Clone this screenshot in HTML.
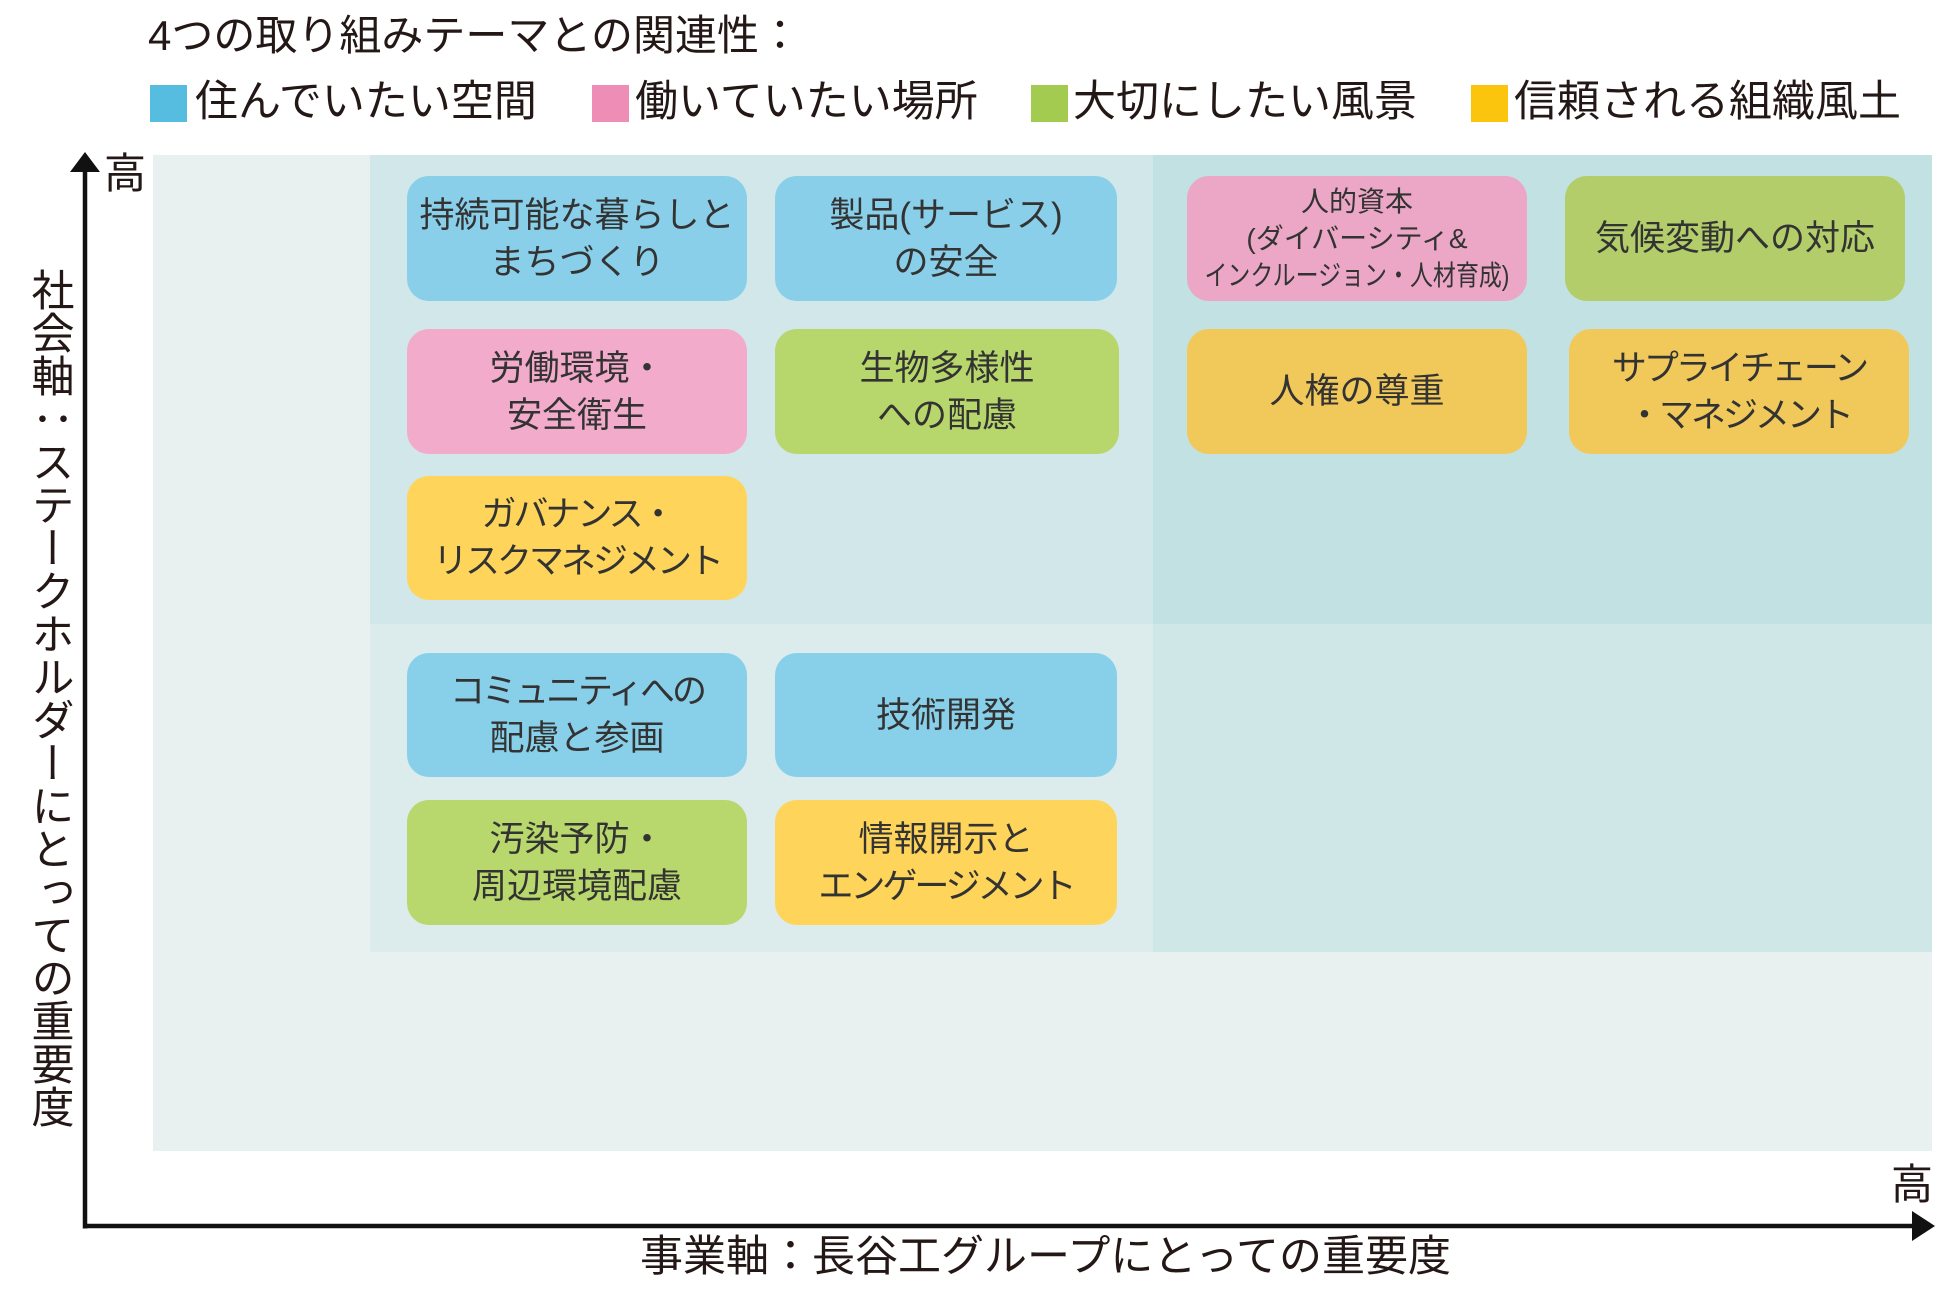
<!DOCTYPE html>
<html lang="ja">
<head>
<meta charset="utf-8">
<style>
  html, body { margin:0; padding:0; background:#ffffff; }
  body { width:1960px; height:1290px; position:relative; overflow:hidden;
         font-family:"Liberation Sans","Noto Sans CJK JP",sans-serif; color:#231815; }
  .abs { position:absolute; }
  .title { left:148px; top:15px; font-size:42px; line-height:42px; letter-spacing:0px; white-space:nowrap; }
  .sq { position:absolute; width:37px; height:37px; top:85px; }
  .lg { position:absolute; top:81px; font-size:43px; line-height:43px; white-space:nowrap; }
  .region { position:absolute; }
  .box { position:absolute; border-radius:22px; display:flex; flex-direction:column;
         align-items:center; justify-content:center; color:#333; font-size:35px; line-height:47px;
         white-space:nowrap; text-align:center; }
  .k { letter-spacing:-3px; }
  .small { font-size:28px; line-height:37px; }
  .ytext { position:absolute; left:27px; top:268px; font-size:43px; line-height:43px; width:43px;
           writing-mode:vertical-rl; text-orientation:mixed; white-space:nowrap; }
  .xtext { position:absolute; left:640px; top:1236px; font-size:43px; line-height:43px; white-space:nowrap; }
  .hi { position:absolute; font-size:42px; line-height:42px; }
</style>
</head>
<body>

<div class="abs title">4つの取り組みテーマとの関連性：</div>

<div class="sq" style="left:150px;background:#56bde0;"></div>
<div class="lg" style="left:195px;">住んでいたい空間</div>
<div class="sq" style="left:592px;background:#ee8db5;"></div>
<div class="lg" style="left:635px;">働いていたい場所</div>
<div class="sq" style="left:1031px;background:#a2cb4f;"></div>
<div class="lg" style="left:1073px;">大切にしたい風景</div>
<div class="sq" style="left:1471px;background:#fbc50d;"></div>
<div class="lg" style="left:1514px;">信頼される組織風土</div>

<!-- background regions -->
<div class="region" style="left:153px;top:155px;width:1779px;height:996px;background:#e9f0f0;"></div>
<div class="region" style="left:370px;top:155px;width:783px;height:469px;background:#d1e7e9;"></div>
<div class="region" style="left:1153px;top:155px;width:779px;height:469px;background:#c2e1e2;"></div>
<div class="region" style="left:370px;top:624px;width:783px;height:328px;background:#dcecec;"></div>
<div class="region" style="left:1153px;top:624px;width:779px;height:328px;background:#d0e7e8;"></div>

<!-- boxes -->
<div class="box" style="left:407px;top:176px;width:340px;height:125px;background:#89cfe9;">
  <div>持続可能な暮らしと</div><div>まちづくり</div>
</div>
<div class="box" style="left:775px;top:176px;width:342px;height:125px;background:#89cfe9;">
  <div>製品(サービス)</div><div>の安全</div>
</div>
<div class="box" style="left:1187px;top:176px;width:340px;height:125px;background:#eba7c5;">
  <div class="small">人的資本</div>
  <div class="small">(ダイバーシティ&amp;</div>
  <div class="small" style="transform:scaleX(0.82);">インクルージョン・人材育成)</div>
</div>
<div class="box" style="left:1565px;top:176px;width:340px;height:125px;background:#b2cd69;">
  <div>気候変動への対応</div>
</div>

<div class="box" style="left:407px;top:329px;width:340px;height:125px;background:#f3abcb;">
  <div>労働環境・</div><div>安全衛生</div>
</div>
<div class="box" style="left:775px;top:329px;width:344px;height:125px;background:#b7d66b;">
  <div>生物多様性</div><div>への配慮</div>
</div>
<div class="box" style="left:1187px;top:329px;width:340px;height:125px;background:#f1c95a;">
  <div>人権の尊重</div>
</div>
<div class="box" style="left:1569px;top:329px;width:340px;height:125px;background:#f1c95a;">
  <div class="k">サプライチェーン</div><div class="k">・マネジメント</div>
</div>

<div class="box" style="left:407px;top:476px;width:340px;height:124px;background:#fed55a;">
  <div class="k">ガバナンス・</div><div class="k">リスクマネジメント</div>
</div>

<div class="box" style="left:407px;top:653px;width:340px;height:124px;background:#88d0ea;">
  <div class="k">コミュニティへの</div><div>配慮と参画</div>
</div>
<div class="box" style="left:775px;top:653px;width:342px;height:124px;background:#88d0ea;">
  <div>技術開発</div>
</div>

<div class="box" style="left:407px;top:800px;width:340px;height:125px;background:#b8d76c;">
  <div>汚染予防・</div><div>周辺環境配慮</div>
</div>
<div class="box" style="left:775px;top:800px;width:342px;height:125px;background:#fed45a;">
  <div>情報開示と</div><div class="k">エンゲージメント</div>
</div>

<!-- axes -->
<svg class="abs" style="left:0;top:0;" width="1960" height="1290" viewBox="0 0 1960 1290">
  <line x1="85" y1="166" x2="85" y2="1228.5" stroke="#111" stroke-width="4.5"/>
  <polygon points="85,152 70,172 100,172" fill="#111"/>
  <line x1="83" y1="1226" x2="1915" y2="1226" stroke="#111" stroke-width="4.5"/>
  <polygon points="1935,1226 1912,1211 1912,1241" fill="#111"/>
</svg>

<div class="hi" style="left:104px;top:153px;">高</div>
<div class="hi" style="left:1891px;top:1164px;">高</div>

<div class="ytext">社会軸：ステークホルダーにとっての重要度</div>
<div class="xtext">事業軸：長谷工グループにとっての重要度</div>

</body>
</html>
